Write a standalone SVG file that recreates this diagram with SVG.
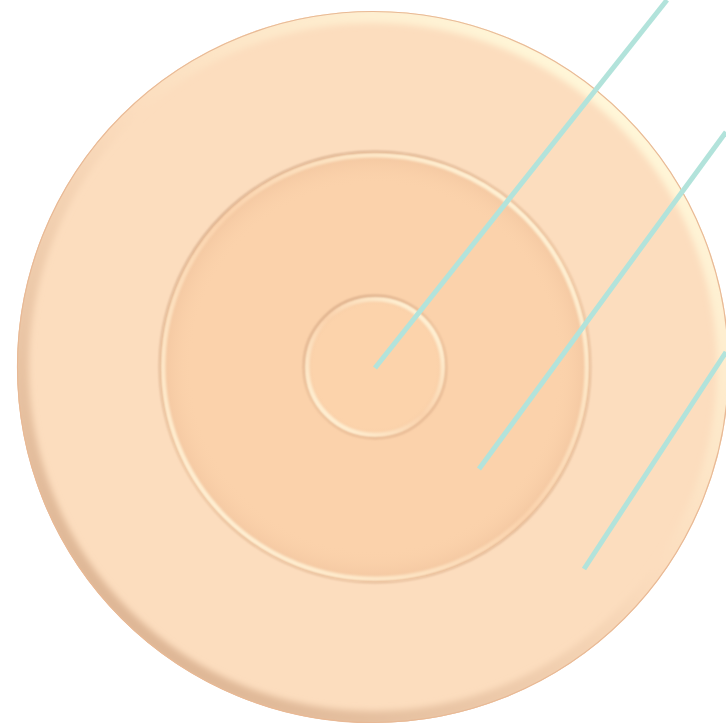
<svg xmlns="http://www.w3.org/2000/svg" width="726" height="726" viewBox="0 0 726 726">
  <defs>
    <linearGradient id="outerEdge" x1="0.85" y1="0.1" x2="0.15" y2="0.9">
      <stop offset="0" stop-color="#FFF8DA"/>
      <stop offset="0.45" stop-color="#FCDDBE"/>
      <stop offset="1" stop-color="#DDB594"/>
    </linearGradient>
    <linearGradient id="grooveDark" x1="0.2" y1="0" x2="0.8" y2="1">
      <stop offset="0" stop-color="#C99A78"/>
      <stop offset="0.5" stop-color="#E8BE98"/>
      <stop offset="1" stop-color="#D9AA86"/>
    </linearGradient>
    <linearGradient id="grooveLight" x1="0.9" y1="0.1" x2="0.1" y2="0.9">
      <stop offset="0" stop-color="#FFF4D8"/>
      <stop offset="0.5" stop-color="#FBD3AD"/>
      <stop offset="1" stop-color="#FFF2D6"/>
    </linearGradient>
    <radialGradient id="innerShade" cx="0.5" cy="0.5" r="0.5">
      <stop offset="0.85" stop-color="#FBD2AB" stop-opacity="0"/>
      <stop offset="1" stop-color="#E9B994" stop-opacity="0.5"/>
    </radialGradient>
    <filter id="soft" x="-10%" y="-10%" width="120%" height="120%">
      <feGaussianBlur stdDeviation="3"/>
    </filter>
    <filter id="softS" x="-10%" y="-10%" width="120%" height="120%">
      <feGaussianBlur stdDeviation="1.2"/>
    </filter>
    <clipPath id="clipOuter"><circle cx="373" cy="367" r="356"/></clipPath>
    <clipPath id="clipMid"><circle cx="375" cy="367" r="215"/></clipPath>
    <clipPath id="clipIn"><circle cx="375" cy="367" r="71"/></clipPath>
  </defs>
  <style>
    .conn { stroke: #B2E3DB; stroke-width: 5; stroke-linecap: butt; fill: none; }
  </style>
  <rect width="726" height="726" fill="#FFFFFF"/>
  <g id="outer-ring">
    <circle cx="373" cy="367" r="356" fill="#FCDDBE"/>
    <g clip-path="url(#clipOuter)">
      <circle cx="373" cy="367" r="352" fill="none" stroke="url(#outerEdge)" stroke-width="16" filter="url(#soft)"/>
    </g>
    <circle cx="373" cy="367" r="355.5" fill="none" stroke="#E8B996" stroke-width="1.2"/>
  </g>
  <g id="middle-ring">
    <circle cx="375" cy="367" r="215" fill="#FBD2AB"/>
    <g clip-path="url(#clipMid)">
      <circle cx="375" cy="367" r="215" fill="url(#innerShade)"/>
      <circle cx="375" cy="367" r="212" fill="none" stroke="url(#grooveLight)" stroke-width="5" filter="url(#softS)"/>
    </g>
    <circle cx="375" cy="367" r="215.5" fill="none" stroke="url(#grooveDark)" stroke-width="1.5" filter="url(#softS)"/>
  </g>
  <g id="inner-ring">
    <circle cx="375" cy="367" r="71" fill="#FCD3AB"/>
    <g clip-path="url(#clipIn)">
      <circle cx="375" cy="367" r="71" fill="url(#innerShade)"/>
      <circle cx="375" cy="367" r="68" fill="none" stroke="url(#grooveLight)" stroke-width="5" filter="url(#softS)"/>
    </g>
    <circle cx="375" cy="367" r="71.5" fill="none" stroke="url(#grooveDark)" stroke-width="1.5" filter="url(#softS)"/>
  </g>
  <g id="connectors">
    <line class="conn" x1="375" y1="368" x2="667" y2="0"/>
    <line class="conn" x1="479" y1="469" x2="726" y2="132"/>
    <line class="conn" x1="584" y1="569" x2="726" y2="352"/>
  </g>
</svg>
